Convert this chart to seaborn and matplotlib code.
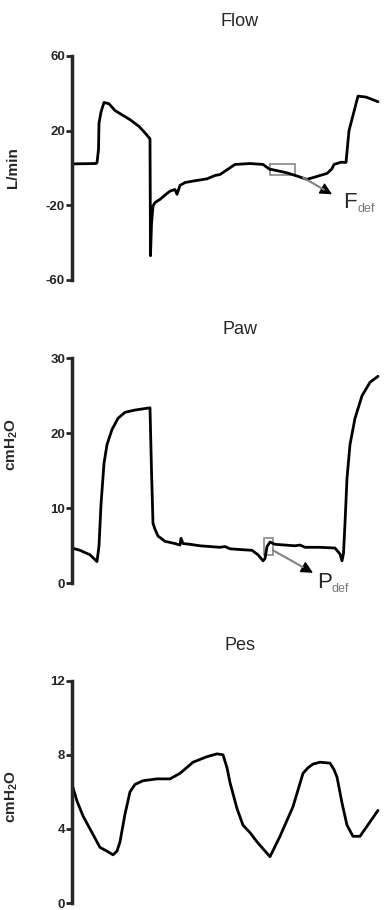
import numpy as np
import pandas as pd
from matplotlib import pyplot as plt
from matplotlib.patches import Rectangle
import seaborn as sns

sns.set_style('ticks')
plt.rcParams['font.family'] = ['Liberation Sans', 'DejaVu Sans']
plt.rcParams['mathtext.default'] = 'regular'
plt.rcParams['axes.unicode_minus'] = False

# time axis (s)
flow_t = [0.00, 0.24, 0.25, 0.265, 0.27, 0.29, 0.32, 0.37, 0.43, 0.50, 0.58, 0.67, 0.73, 0.78,
          0.785, 0.795, 0.81, 0.83, 0.88, 0.93, 0.98, 1.03, 1.05, 1.08, 1.13, 1.21, 1.35,
          1.43, 1.48, 1.53, 1.63, 1.78, 1.91, 1.98, 1.997, 2.15, 2.25, 2.35, 2.45, 2.55,
          2.598, 2.62, 2.69, 2.74, 2.77, 2.86, 2.94, 3.06]
flow_v = [2.2, 2.4, 2.8, 10, 24, 30, 35.1, 34.4, 30.8, 28.5, 25.9, 22.3, 18.8, 15.6,
          -47, -30, -20.4, -18.5, -16.8, -14.5, -12.4, -11.5, -14.1, -9.3, -7.8, -7, -5.8,
          -4.0, -3.5, -1.7, 1.9, 2.4, 1.9, -0.8, -0.8, -2.6, -4.3, -6.1, -4.5, -2.9,
          -0.5, 1.9, 3.1, 3.0, 20, 38.5, 38.0, 35.5]

paw_t = [0.00, 0.08, 0.18, 0.25, 0.27, 0.29, 0.32, 0.35, 0.40, 0.46, 0.53, 0.63, 0.73, 0.78,
         0.795, 0.81, 0.83, 0.86, 0.93, 1.03, 1.08, 1.09, 1.11, 1.18, 1.28, 1.38, 1.48,
         1.53, 1.58, 1.68, 1.80, 1.86, 1.91, 1.93, 1.95, 1.98, 2.03, 2.13, 2.23, 2.28,
         2.33, 2.48, 2.63, 2.68, 2.70, 2.715, 2.73, 2.75, 2.78, 2.83, 2.90, 2.98, 3.06]
paw_v = [4.7, 4.4, 3.8, 2.9, 5.0, 10.5, 16.0, 18.5, 20.5, 22.0, 22.8, 23.1, 23.3, 23.4,
         15.0, 8.0, 7.2, 6.3, 5.6, 5.3, 5.1, 6.0, 5.3, 5.2, 5.0, 4.9, 4.8,
         4.9, 4.6, 4.5, 4.4, 3.8, 3.0, 3.3, 4.9, 5.5, 5.2, 5.1, 5.0, 5.1,
         4.8, 4.8, 4.7, 3.9, 3.0, 4.0, 8.0, 14.0, 18.5, 22.0, 25.0, 26.8, 27.6]

pes_t = [0.00, 0.05, 0.11, 0.20, 0.28, 0.35, 0.41, 0.45, 0.48, 0.53, 0.58, 0.63, 0.71, 0.85,
         0.98, 1.08, 1.21, 1.35, 1.45, 1.51, 1.55, 1.58, 1.65, 1.71, 1.78, 1.85, 1.98,
         2.08, 2.21, 2.31, 2.36, 2.41, 2.48, 2.58, 2.62, 2.65, 2.70, 2.75, 2.81, 2.88,
         2.97, 3.06]
pes_v = [6.4, 5.5, 4.7, 3.8, 3.0, 2.8, 2.6, 2.8, 3.3, 4.8, 6.0, 6.4, 6.6, 6.7,
         6.7, 7.0, 7.6, 7.9, 8.05, 8.0, 7.3, 6.5, 5.1, 4.2, 3.8, 3.3, 2.5,
         3.6, 5.2, 7.0, 7.3, 7.5, 7.6, 7.55, 7.2, 6.8, 5.4, 4.2, 3.6, 3.6,
         4.3, 5.0]

panels = [
    ('Flow', 'L/min', flow_t, flow_v, (-60, 60), [-60, -20, 20, 60], 0.5),
    ('Paw', r'cmH$_2$O', paw_t, paw_v, (0, 30), [0, 10, 20, 30], 0.615),
    ('Pes', r'cmH$_2$O', pes_t, pes_v, (0, 12), [0, 4, 8, 12], 0.48),
]
# axes rectangles in pixels: (top, bottom)
rows = [(56, 280), (358.3, 583.3), (680.7, 903)]
title_y = [22, 330, 645]

W, H = 384, 910
fig = plt.figure(figsize=(W / 100, H / 100), dpi=100)

axes = []
for (name, ylab, t, v, ylim, ticks, lab_y), (top, bot), ty in zip(panels, rows, title_y):
    ax = fig.add_axes([72 / W, 1 - bot / H, 308 / W, (bot - top) / H])
    df = pd.DataFrame({'t': t, 'v': v})
    sns.lineplot(data=df, x='t', y='v', ax=ax, color='black', lw=2.0, sort=False)
    ax.set_xlim(0, 3.08)
    ax.set_ylim(*ylim)
    ax.set_yticks(ticks)
    ax.set_xticks([])
    ax.set_xlabel('')
    ax.set_ylabel(ylab, fontsize=11, fontweight='bold')
    ax.yaxis.set_label_coords(-0.17, lab_y)
    sns.despine(ax=ax, bottom=True)
    ax.spines['left'].set_linewidth(2.5)
    ax.tick_params(axis='y', length=4, width=2, pad=1, labelsize=9.5)
    for lbl in ax.get_yticklabels():
        lbl.set_fontweight('bold')
    ax.patch.set_alpha(0)
    fig.text(240 / W, 1 - ty / H, name, ha='center', va='center', fontsize=13)
    axes.append(ax)

# Flow deflection marker
ax = axes[0]
ax.add_patch(Rectangle((1.98, -3.5), 0.25, 5.9, fill=False, ec='#888888', lw=1.2))
ax.annotate('', xy=(2.60, -14.1), xytext=(2.31, -5.1),
            arrowprops=dict(arrowstyle='-|>', color='black', lw=1.0,
                            mutation_scale=18, shrinkA=0, shrinkB=0))
ax.annotate('', xy=(2.52, -11.6), xytext=(2.31, -5.1),
            arrowprops=dict(arrowstyle='-', color='#888888', lw=1.3, shrinkA=0, shrinkB=0))
ax.text(2.71, -18.4, 'F', fontsize=16, va='center', ha='left')
ax.text(2.855, -22.0, 'def', fontsize=9, color='#777777', va='center', ha='left')

# Paw deflection marker
ax = axes[1]
ax.add_patch(Rectangle((1.92, 3.8), 0.09, 2.2, fill=False, ec='#888888', lw=1.2))
ax.annotate('', xy=(2.41, 1.4), xytext=(2.01, 4.4),
            arrowprops=dict(arrowstyle='-|>', color='black', lw=1.0,
                            mutation_scale=18, shrinkA=0, shrinkB=0))
ax.annotate('', xy=(2.31, 2.15), xytext=(2.01, 4.4),
            arrowprops=dict(arrowstyle='-', color='#888888', lw=1.3, shrinkA=0, shrinkB=0))
ax.text(2.45, 0.1, 'P', fontsize=16, va='center', ha='left')
ax.text(2.595, -0.8, 'def', fontsize=9, color='#777777', va='center', ha='left', clip_on=False)

fig.savefig('out.png', dpi=100)
